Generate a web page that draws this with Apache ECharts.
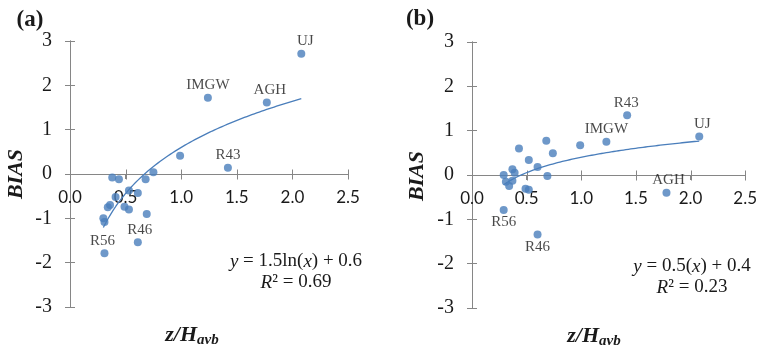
<!DOCTYPE html>
<html>
<head>
<meta charset="utf-8">
<script src="https://cdn.jsdelivr.net/npm/echarts@6/dist/echarts.min.js"></script>
<style>
  html, body { margin: 0; padding: 0; background: #fff; }
  #wrap { position: relative; width: 760px; height: 349px; }
  .panel { position: absolute; top: 0; width: 380px; height: 349px; }
  #panelA { left: 0; }
  #panelB { left: 380px; }
</style>
</head>
<body>
<div id="wrap"><div class="panel" id="panelA"></div><div class="panel" id="panelB"></div></div>
<script>
// Panel (a): BIAS vs z/H_avb
const xA = [0.38, 0.44, 0.75, 0.68, 0.53, 0.61, 0.41, 0.36, 0.34, 0.49, 0.53, 0.69, 0.30, 0.31, 0.61, 0.31, 0.99, 1.42, 1.24, 1.77, 2.08];
const yA = [-0.08, -0.12, 0.04, -0.12, -0.37, -0.43, -0.52, -0.70, -0.75, -0.74, -0.80, -0.90, -1.00, -1.08, -1.54, -1.79, 0.41, 0.14, 1.72, 1.61, 2.71];
const namesA = ['', '', '', '', '', '', '', '', '', '', '', '', '', '', 'R46', 'R56', '', 'R43', 'IMGW', 'AGH', 'UJ'];

// Panel (b)
const xB = [0.29, 0.37, 0.39, 0.31, 0.37, 0.34, 0.43, 0.52, 0.60, 0.68, 0.74, 0.69, 0.49, 0.52, 0.29, 0.60, 0.99, 1.23, 1.42, 2.08, 1.78];
const yB = [0.00, 0.13, 0.05, -0.15, -0.13, -0.25, 0.60, 0.34, 0.18, 0.77, 0.49, -0.02, -0.31, -0.33, -0.79, -1.34, 0.67, 0.75, 1.35, 0.87, -0.40];
const namesB = ['', '', '', '', '', '', '', '', '', '', '', '', '', '', 'R56', 'R46', '', 'IMGW', 'R43', 'UJ', 'AGH'];

// Logarithmic trend lines y = a*ln(x) + b, with their R² values
const trendA = [1.5, 0.6];
const trendB = [0.5, 0.4];
const r2A = '0.69';
const r2B = '0.23';

const xTicks = [0, 0.5, 1.0, 1.5, 2.0, 2.5];
const yTicks = [-3, -2, -1, 0, 1, 2, 3];

const BLUE = '#4a7ebb';
const AXIS = '#868686';
const INK = '#1a1a1a';
const SERIF = '"Liberation Serif", "Times New Roman", serif';
const SANS = 'Lato, "Liberation Sans", sans-serif';
const TICK = 5;

// label placement per point name for each panel
const labelPosA = { R46: ['top', [2, 0]], R56: ['top', [-2, 0]], R43: ['top', [0, 0]], IMGW: ['top', [0, 0]], AGH: ['top', [3, 0]], UJ: ['top', [4, 0]] };
const labelPosB = { R56: ['bottom', [0, 0]], R46: ['bottom', [0, 0]], IMGW: ['top', [0, 0]], R43: ['top', [-1, 0]], UJ: ['top', [3, 0]], AGH: ['top', [2, 0]] };

function points(xs, ys, names, pos) {
  return xs.map((x, i) => {
    const item = { value: [x, ys[i]] };
    if (names[i]) {
      const p = pos[names[i]];
      item.label = {
        show: true, formatter: names[i], position: p[0], offset: p[1], distance: 1,
        fontFamily: SERIF, fontSize: 15, color: INK
      };
    }
    return item;
  });
}

function trend(coef, xs) {
  const lo = Math.min(...xs), hi = Math.max(...xs);
  const out = [];
  const n = 80;
  for (let i = 0; i <= n; i++) {
    const x = lo + (hi - lo) * i / n;
    out.push([x, coef[0] * Math.log(x) + coef[1]]);
  }
  return out;
}

// x axis lifted from the bottom edge up to the y = 0 line, carrying the tick labels
function xAxes(grid) {
  const yMin = yTicks[0], yMax = yTicks[yTicks.length - 1];
  const lift = -grid.height * (0 - yMin) / (yMax - yMin);
  return [{
    type: 'value', position: 'bottom', offset: lift,
    min: xTicks[0], max: xTicks[xTicks.length - 1], interval: 0.5,
    splitLine: { show: false },
    axisLine: { show: true, onZero: false, lineStyle: { color: AXIS, width: 1 } },
    axisTick: { show: true, length: TICK, lineStyle: { color: AXIS } },
    axisLabel: { show: true, margin: 15, fontFamily: SANS, fontSize: 17, color: INK,
      formatter: v => v.toFixed(1) }
  }];
}

function yAxes() {
  const mk = (inside, labels) => ({
    type: 'value', position: 'left', min: yTicks[0], max: yTicks[yTicks.length - 1], interval: 1,
    splitLine: { show: false },
    axisLine: { show: true, onZero: false, lineStyle: { color: AXIS, width: 1 } },
    axisTick: { show: true, inside: inside, length: TICK, lineStyle: { color: AXIS } },
    axisLabel: { show: labels, margin: 18, fontFamily: SERIF, fontSize: 20, color: INK }
  });
  return [mk(false, true), mk(true, false)];
}

function eqText(cx, cy, lines) {
  return {
    type: 'text', x: cx, y: cy,
    style: {
      text: lines, align: 'center', verticalAlign: 'middle',
      font: '19px ' + SERIF, fill: INK, lineHeight: 21,
      rich: { i: { fontStyle: 'italic', fontFamily: SERIF, fontSize: 19 } }
    }
  };
}

function xTitle(cx, cy) {
  return {
    type: 'text', x: cx, y: cy,
    style: {
      text: '{a|z/H}{b|avb}', align: 'center', verticalAlign: 'middle',
      rich: {
        a: { fontFamily: SERIF, fontWeight: 'bold', fontStyle: 'italic', fontSize: 22, fill: INK, lineHeight: 24 },
        b: { fontFamily: SERIF, fontWeight: 'bold', fontStyle: 'italic', fontSize: 15, fill: INK, lineHeight: 24, padding: [10, 0, 0, 0] }
      }
    }
  };
}

function yTitle(cx, cy) {
  return {
    type: 'text', x: cx, y: cy, rotation: Math.PI / 2,
    style: { text: 'BIAS', align: 'center', verticalAlign: 'middle', font: 'italic bold 22px ' + SERIF, fill: INK }
  };
}

function panelTag(cx, cy, t) {
  return {
    type: 'text', x: cx, y: cy,
    style: { text: t, align: 'center', verticalAlign: 'middle', font: 'bold 23px ' + SERIF, fill: INK }
  };
}

// zero line and crossing ticks of the horizontal axis, placed through the chart's own scales
function zeroAxisGraphics(chart) {
  const toPx = v => chart.convertToPixel({ xAxisIndex: 0, yAxisIndex: 0 }, v);
  const a = toPx([xTicks[0], 0]);
  const b = toPx([xTicks[xTicks.length - 1], 0]);
  const y = Math.round(a[1]) + 0.5;
  const out = [{
    type: 'line', z: 1, silent: true,
    shape: { x1: a[0], y1: y, x2: b[0], y2: y },
    style: { stroke: AXIS, lineWidth: 1 }
  }];
  xTicks.forEach(t => {
    const x = Math.round(toPx([t, 0])[0]) + 0.5;
    out.push({
      type: 'line', z: 1, silent: true,
      shape: { x1: x, y1: y - TICK, x2: x, y2: y + TICK },
      style: { stroke: AXIS, lineWidth: 1 }
    });
  });
  return out;
}

function panel(el, p) {
  const chart = echarts.init(document.getElementById(el), null, { renderer: 'canvas' });
  const texts = [
    panelTag(p.tag[0], p.tag[1], p.tag[2]),
    yTitle(p.yTitle[0], p.yTitle[1]),
    xTitle(p.xTitle[0], p.xTitle[1]),
    eqText(p.eq[0], p.eq[1], p.eqLines)
  ];
  chart.setOption({
    animation: false,
    backgroundColor: '#fff',
    grid: p.grid,
    xAxis: xAxes(p.grid),
    yAxis: yAxes(),
    series: [
      {
        type: 'line', xAxisIndex: 0, yAxisIndex: 0, data: trend(p.coef, p.xs),
        showSymbol: false, lineStyle: { color: BLUE, width: 1.3 }, z: 2, silent: true
      },
      {
        type: 'scatter', xAxisIndex: 0, yAxisIndex: 0, data: points(p.xs, p.ys, p.names, p.labelPos),
        symbolSize: 8, itemStyle: { color: BLUE }, z: 3
      }
    ],
    graphic: texts
  });
  chart.setOption({ graphic: texts.concat(zeroAxisGraphics(chart)) });
}

panel('panelA', {
  grid: { left: 70, top: 41, width: 278, height: 266 },
  xs: xA, ys: yA, names: namesA, labelPos: labelPosA, coef: trendA,
  tag: [30, 20, '(a)'], yTitle: [16, 174], xTitle: [192, 335], eq: [296, 272],
  eqLines: '{i|y} = ' + trendA[0] + 'ln({i|x}) + ' + trendA[1] + '\n{i|R}² = ' + r2A
});

panel('panelB', {
  grid: { left: 92, top: 42, width: 274, height: 266 },
  xs: xB, ys: yB, names: namesB, labelPos: labelPosB, coef: trendB,
  tag: [40, 19, '(b)'], yTitle: [37, 176], xTitle: [214, 336], eq: [312, 277],
  eqLines: '{i|y} = ' + trendB[0] + '({i|x}) + ' + trendB[1] + '\n{i|R}² = ' + r2B
});
</script>
</body>
</html>
